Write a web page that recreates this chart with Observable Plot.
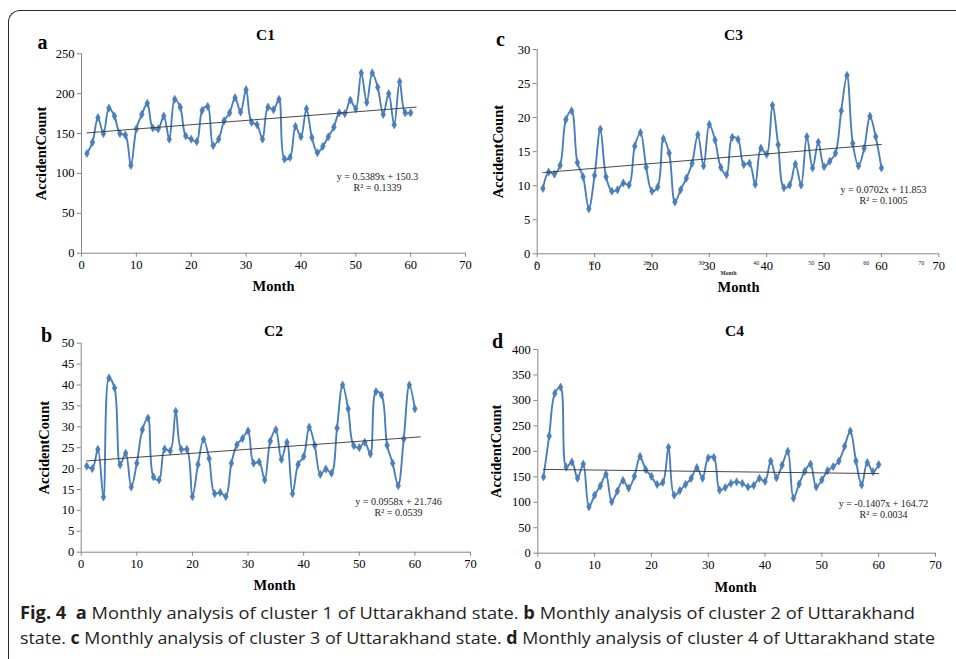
<!DOCTYPE html>
<html><head><meta charset="utf-8">
<script src="https://cdn.jsdelivr.net/npm/d3@7"></script>
<script src="https://cdn.jsdelivr.net/npm/@observablehq/plot@0.6"></script>
<style>
html,body{margin:0;padding:0;background:#fff}
body{width:956px;height:659px;overflow:hidden;position:relative}
#frame{position:absolute;left:8px;top:10px;width:980px;height:700px;border-left:1.4px solid #2a2a2a;border-top:1.4px solid #2a2a2a;border-top-left-radius:12px;box-sizing:border-box}
.panel{position:absolute}
.panel svg{overflow:visible}
.panel [aria-label="y-axis tick"], .panel [aria-label="x-axis tick"]{stroke:#868686}
#caption{position:absolute;left:20px;top:600px;font-family:"Open Sans",sans-serif;font-size:17px;color:#231f20;white-space:nowrap}
#caption div{transform-origin:0 50%;height:25px;line-height:25px}
</style></head>
<body>
<div id="frame"></div>
<div id="charts"></div>
<div id="caption">
<div id="cap1"><b>Fig. 4</b>&nbsp; <b>a</b> Monthly analysis of cluster 1 of Uttarakhand state. <b>b</b> Monthly analysis of cluster 2 of Uttarakhand</div>
<div id="cap2">state. <b>c</b> Monthly analysis of cluster 3 of Uttarakhand state. <b>d</b> Monthly analysis of cluster 4 of Uttarakhand state</div>
</div>
<script>
// ---------- data ----------
const months = d3.range(1, 61);
const c1 = [125,139,170,150,182,172,150,148,110,156,174,188,157,156,172,143,193,183,147,143,140,179,184,135,143,166,176,195,177,205,164,161,143,183,180,193,118,120,159,146,181,145,126,134,146,158,176,175,192,181,226,189,226,208,174,200,161,215,176,176];
const c2 = [20.6,20.0,24.6,13.2,41.7,39.3,20.9,23.7,15.6,21.3,29.3,32.1,18.0,17.3,24.7,24.2,33.7,24.6,24.6,13.3,21.0,27.0,22.4,14.0,14.3,13.3,21.3,25.7,27.2,29.0,21.3,21.6,17.3,26.6,29.3,22.2,26.3,14.0,21.0,22.9,29.9,25.5,18.6,19.9,18.9,29.7,40.0,34.3,25.5,25.0,26.3,23.5,38.4,37.6,25.6,21.3,15.9,27.1,40.0,34.3];
const c3 = [9.6,12.0,11.7,13.0,19.7,21.0,13.4,11.3,6.6,11.5,18.3,11.3,9.2,9.4,10.4,10.1,15.8,17.8,12.7,9.2,9.8,16.9,14.8,7.6,9.4,11.1,13.3,17.5,12.9,19.0,16.7,12.7,11.6,17.1,16.8,13.1,13.3,10.2,15.5,14.6,21.8,16.0,9.7,10.1,13.2,10.1,17.2,12.6,16.4,12.8,13.6,14.8,21.0,26.2,16.2,12.9,15.5,20.2,17.2,12.6];
const c4 = [150,230,314,326,169,179,147,175,91,114,132,155,101,122,143,128,151,190,164,151,135,139,208,114,123,135,147,168,147,187,188,124,129,137,140,137,130,133,147,141,181,148,173,200,108,136,161,175,130,144,162,170,181,210,240,181,134,178,160,174];

const xTicks = [0,10,20,30,40,50,60,70];
const ghostTicks = [0,10,20,30,40,50,60,70];
const yTicks1 = [0,50,100,150,200,250];
const yTicks2 = [0,5,10,15,20,25,30,35,40,45,50];
const yTicks3 = [0,5,10,15,20,25,30];
const yTicks4 = [0,50,100,150,200,250,300,350,400];

const titles = ["C1","C2","C3","C4"];
const letters = ["a","b","c","d"];
const slopes = [0.5389, 0.0958, 0.0702, -0.1407];
const intercepts = [150.3, 21.746, 11.853, 164.72];
const trendStart = [1,1,1,1];
const trendEnd = [61,61,60,60];
const eqLabels = ["y = 0.5389x + 150.3","y = 0.0958x + 21.746","y = 0.0702x + 11.853","y = -0.1407x + 164.72"];
const r2Labels = ["R² = 0.1339","R² = 0.0539","R² = 0.1005","R² = 0.0034"];
const xLabel = "Month";
const yLabel = "AccidentCount";

// ---------- layout ----------
const layout = [
  {values:c1, dom:[0,250], ticks:yTicks1, left:0, top:0, ml:81, mr:13, mt:53.3, mb:47.3,
   title:[265,35], letter:[42,42], ylab:41, month:[273,286], eq:[377,176]},
  {values:c2, dom:[0,50], ticks:yTicks2, left:0, top:300, ml:80.7, mr:8, mt:42.7, mb:48.3,
   title:[273,331], letter:[46,335], ylab:44, month:[274,585], eq:[398,501]},
  {values:c3, dom:[0,30], ticks:yTicks3, left:478, top:0, ml:58.7, mr:17.7, mt:49, mb:46.7,
   title:[733,35], letter:[500,39], ylab:498, month:[738,287], eq:[883,189], ghost:true},
  {values:c4, dom:[0,400], ticks:yTicks4, left:478, top:300, ml:59.3, mr:21, mt:49, mb:47.3,
   title:[734,331], letter:[497,341], ylab:496, month:[735,587], eq:[883,503]}
];

const BLUE = "#4a7ebb";
const W = 478, H = 300;
const host = document.getElementById("charts");

layout.forEach((p, i) => {
  const at = (X, Y) => ({frameAnchor:"top-left", textAnchor:"middle", lineAnchor:"middle", dx: X - p.left - p.ml, dy: Y - p.top - p.mt});
  const data = months.map((m, k) => ({m, v: p.values[k]}));
  const trend = [trendStart[i], trendEnd[i]].map(x => ({x, y: slopes[i]*x + intercepts[i]}));
  const frameMidY = p.top + p.mt + (H - p.mt - p.mb)/2;
  const marks = [
    Plot.ruleY([p.dom[0]], {stroke:"#868686", strokeWidth:1}),
    Plot.ruleX([0], {stroke:"#868686", strokeWidth:1}),
    Plot.axisY(p.ticks, {tickSize:4, tickPadding:3, fontSize:12.5, label:null}),
    Plot.axisX(xTicks, {tickSize:4, tickPadding:3, fontSize:12.5, label:null}),
    Plot.line(data, {x:"m", y:"v", curve:"catmull-rom", stroke:BLUE, strokeWidth:1.9}),
    Plot.dot(data, {x:"m", y:"v", symbol:"diamond", r:2.5, fill:BLUE, stroke:BLUE, strokeWidth:0.5}),
    Plot.line(trend, {x:"x", y:"y", stroke:"#333", strokeWidth:0.9}),
    Plot.text([titles[i]], {text:d=>d, ...at(...p.title), fontWeight:"bold", fontSize:15.5, fill:"#000"}),
    Plot.text([letters[i]], {text:d=>d, ...at(...p.letter), fontWeight:"bold", fontSize:20, fill:"#000"}),
    Plot.text([yLabel], {text:d=>d, ...at(p.ylab, frameMidY), rotate:-90, fontWeight:"bold", fontSize:14.5, fill:"#000"}),
    Plot.text([xLabel], {text:d=>d, ...at(...p.month), fontWeight:"bold", fontSize:14.5, fill:"#000"}),
    Plot.text([eqLabels[i]], {text:d=>d, ...at(...p.eq), fontSize:10, fill:"#222"}),
    Plot.text([r2Labels[i]], {text:d=>d, ...at(p.eq[0], p.eq[1]+11.5), fontSize:10, fill:"#222"})
  ];
  if (p.ghost) {
    marks.push(Plot.text(ghostTicks, {x: d => d * 385/401.6, text: d => String(d), frameAnchor:"bottom", dy: 9, dx: -1, fontSize:6, lineAnchor:"middle", fill:"#222"}));
    marks.push(Plot.text([xLabel], {text:d=>d, ...at(728, 273), fontWeight:"bold", fontSize:5.5, fill:"#222"}));
  }
  const chart = Plot.plot({
    width: W, height: H,
    marginLeft: p.ml, marginRight: p.mr, marginTop: p.mt, marginBottom: p.mb,
    x: {domain:[0,70]},
    y: {domain:p.dom},
    style: {fontFamily:"'Liberation Serif', 'Times New Roman', serif", background:"transparent", color:"#000", overflow:"visible"},
    marks
  });
  const div = document.createElement("div");
  div.className = "panel";
  div.style.left = p.left + "px";
  div.style.top = p.top + "px";
  div.appendChild(chart);
  host.appendChild(div);
});

// fit caption lines to the reference widths
[["cap1", 895], ["cap2", 915]].forEach(([id, target]) => {
  const el = document.getElementById(id);
  el.style.display = "inline-block";
  const w = el.getBoundingClientRect().width;
  el.style.display = "block";
  el.style.transform = `scaleX(${target / w})`;
});
</script>
</body></html>
